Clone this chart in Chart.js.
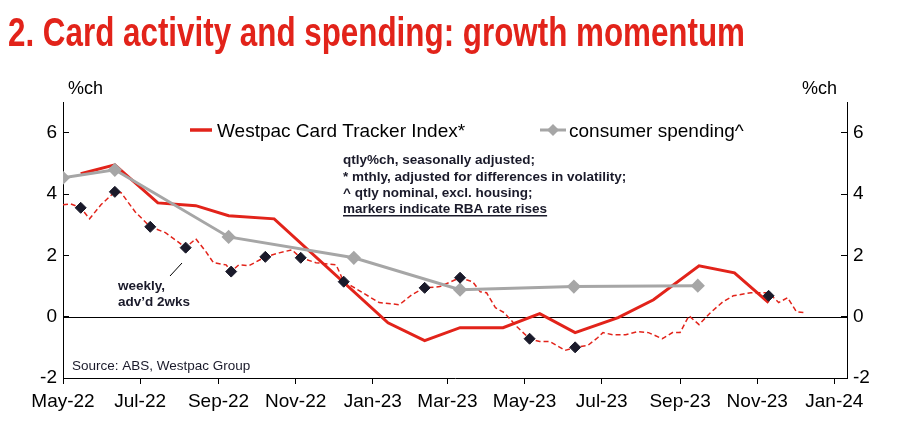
<!DOCTYPE html>
<html><head><meta charset="utf-8">
<script src="https://cdn.jsdelivr.net/npm/chart.js@4"></script>
<style>html,body{margin:0;padding:0;background:#fff}#w{width:897px;height:422px}</style>
</head><body><div id="w"><canvas id="c"></canvas></div>
<script>
// x values are days since 1 May 2022
const monthTickDays = [0,61,123,184,245,304,365,426,488,549,610];
const monthTickLabels = ['May-22','Jul-22','Sep-22','Nov-22','Jan-23','Mar-23','May-23','Jul-23','Sep-23','Nov-23','Jan-24'];

const cardDays = [14,41,75,105,131,167,257,286,314,348,377,405,439,467,503,531,558];
const cardValues = [4.66,4.95,3.71,3.62,3.29,3.19,-0.2,-0.78,-0.36,-0.36,0.1,-0.52,-0.03,0.55,1.66,1.43,0.46];

const spendDays = [0,41,131,230,314,404,502];
const spendValues = [4.53,4.79,2.6,1.92,0.88,0.98,1.01];

const weeklyDays = [0,6,14,21,30,41,46,57,69,81,91,97,105,113,119,129,133,139,147,160,171,181,188,200,216,222,229,237,250,266,276,286,298,314,324,330,335,342,349,359,369,377,385,397,405,415,423,427,435,445,454,463,474,482,488,495,503,512,522,530,544,558,566,573,580,586];
const weeklyValues = [3.65,3.68,3.55,3.19,3.65,4.07,4.04,3.42,2.93,2.74,2.44,2.25,2.54,2.12,1.76,1.69,1.47,1.69,1.66,1.95,2.08,2.18,1.92,1.76,1.69,1.14,0.98,0.78,0.46,0.39,0.72,0.94,0.98,1.27,1.14,0.81,0.78,0.29,0.13,-0.33,-0.72,-0.81,-0.81,-1.1,-1.0,-0.94,-0.68,-0.52,-0.59,-0.59,-0.49,-0.52,-0.72,-0.52,-0.52,0.03,-0.26,0.13,0.49,0.68,0.78,0.78,0.46,0.62,0.16,0.13];

const rbaDays = [14,41,69,97,133,160,188,222,286,314,369,405,558];
const rbaValues = [3.55,4.07,2.93,2.25,1.47,1.95,1.92,1.14,0.94,1.27,-0.72,-1.0,0.68];

const yTicks = [-2,0,2,4,6];

const pts = (xs, ys) => xs.map((x,i)=>({x, y: ys[i]}));
const RED = '#e2231a', GREY = '#a6a6a6';
const FONT = "'Liberation Sans', Arial, sans-serif";

const deco = {
  id:'deco',
  beforeDatasetsDraw(ch){
    const {ctx, chartArea:a, scales:{y}} = ch;
    ctx.save();
    ctx.strokeStyle='#000'; ctx.lineWidth=1;
    const y0 = Math.round(y.getPixelForValue(0))+0.5;
    ctx.beginPath(); ctx.moveTo(a.left,y0); ctx.lineTo(a.right,y0); ctx.stroke();
    ctx.restore();
  },
  afterDraw(ch){
    const {ctx} = ch;
    ctx.save();
    ctx.fillStyle = RED;
    ctx.font = "bold 40px 'Liberation Sans', sans-serif";
    ctx.textBaseline='alphabetic';
    const title = '2. Card activity and spending: growth momentum';
    const tw = ctx.measureText(title).width;
    ctx.save(); ctx.translate(8, 46); ctx.scale(737/tw, 1); ctx.fillText(title, 0, 0); ctx.restore();
    ctx.fillStyle='#000';
    ctx.font = "18px " + FONT;
    ctx.fillText('%ch', 68, 94);
    ctx.fillText('%ch', 802, 94);
    // legend
    ctx.font = "19px " + FONT;
    ctx.strokeStyle=RED; ctx.lineWidth=3.5;
    ctx.beginPath(); ctx.moveTo(190,130); ctx.lineTo(212,130); ctx.stroke();
    ctx.fillText('Westpac Card Tracker Index*', 217, 137);
    ctx.strokeStyle=GREY; ctx.lineWidth=3;
    ctx.beginPath(); ctx.moveTo(540,130); ctx.lineTo(566,130); ctx.stroke();
    ctx.fillStyle=GREY;
    ctx.beginPath(); ctx.moveTo(553,124); ctx.lineTo(559,130); ctx.lineTo(553,136); ctx.lineTo(547,130); ctx.fill();
    ctx.fillStyle='#000';
    ctx.fillText('consumer spending^', 569, 137);
    // notes
    ctx.fillStyle='#1a1a2a';
    ctx.font = "bold 13.5px " + FONT;
    ctx.fillText('qtly%ch, seasonally adjusted;', 343, 164);
    ctx.fillText('* mthly, adjusted for differences in volatility;', 343, 181);
    ctx.fillText('^ qtly nominal, excl. housing;', 343, 197);
    ctx.fillText('markers indicate RBA rate rises', 343, 213);
    const w = ctx.measureText('markers indicate RBA rate rises').width;
    ctx.fillRect(343, 215, w, 1.5);
    ctx.fillText('weekly,', 118, 290);
    ctx.fillText("adv\u2019d 2wks", 118, 306);
    ctx.strokeStyle='#000'; ctx.lineWidth=1;
    ctx.beginPath(); ctx.moveTo(170,276); ctx.lineTo(182,263); ctx.stroke();
    ctx.font = "13.5px " + FONT;
    ctx.fillText('Source: ABS, Westpac Group', 72, 370);
    ctx.restore();
  }
};

const yAxis = (pos) => ({
  type:'linear', position:pos, min:-2, max:7,
  afterBuildTicks: ax => { ax.ticks = yTicks.map(v=>({value:v})); },
  grid:{drawOnChartArea:false, drawTicks:true, tickLength:-6, color:'#000'},
  border:{color:'#000', width:1},
  ticks:{color:'#000', font:{family:FONT, size:19}, padding:12},
  afterFit: ax => { ax.width = pos==='left' ? 63 : 50; }
});

new Chart(document.getElementById('c'), {
  type:'line',
  data:{datasets:[
    {data:pts(rbaDays,rbaValues), showLine:false, pointStyle:'rectRot', pointRadius:5.5, pointBackgroundColor:'#1a1a2a', pointBorderColor:'#1a1a2a', order:0},
    {data:pts(spendDays,spendValues), borderColor:GREY, borderWidth:3, pointStyle:'rectRot', pointRadius:5, pointBackgroundColor:GREY, pointBorderColor:GREY, tension:0, order:1},
    {data:pts(cardDays,cardValues), borderColor:RED, borderWidth:3, pointRadius:0, tension:0, order:2},
    {data:pts(weeklyDays,weeklyValues), borderColor:RED, borderWidth:1.5, borderDash:[5,3], pointRadius:0, tension:0, order:3},
  ]},
  options:{
    responsive:true, maintainAspectRatio:false, animation:false,
    layout:{padding:{top:102, left:0, right:0, bottom:0}},
    plugins:{legend:{display:false}, tooltip:{enabled:false}},
    scales:{
      x:{type:'linear', min:0, max:620,
        afterBuildTicks: ax => { ax.ticks = monthTickDays.map(v=>({value:v})); },
        ticks:{color:'#000', font:{family:FONT, size:19}, maxRotation:0, autoSkip:false, padding:6,
          callback:(v)=>{const i=monthTickDays.indexOf(v); return i>=0?monthTickLabels[i]:'';}},
        grid:{drawOnChartArea:false, tickLength:6, color:'#000'},
        border:{color:'#000', width:1},
        afterFit: ax => { ax.height = 44; }
      },
      y: yAxis('left'),
      y2: yAxis('right')
    }
  },
  plugins:[deco]
});
</script></body></html>
